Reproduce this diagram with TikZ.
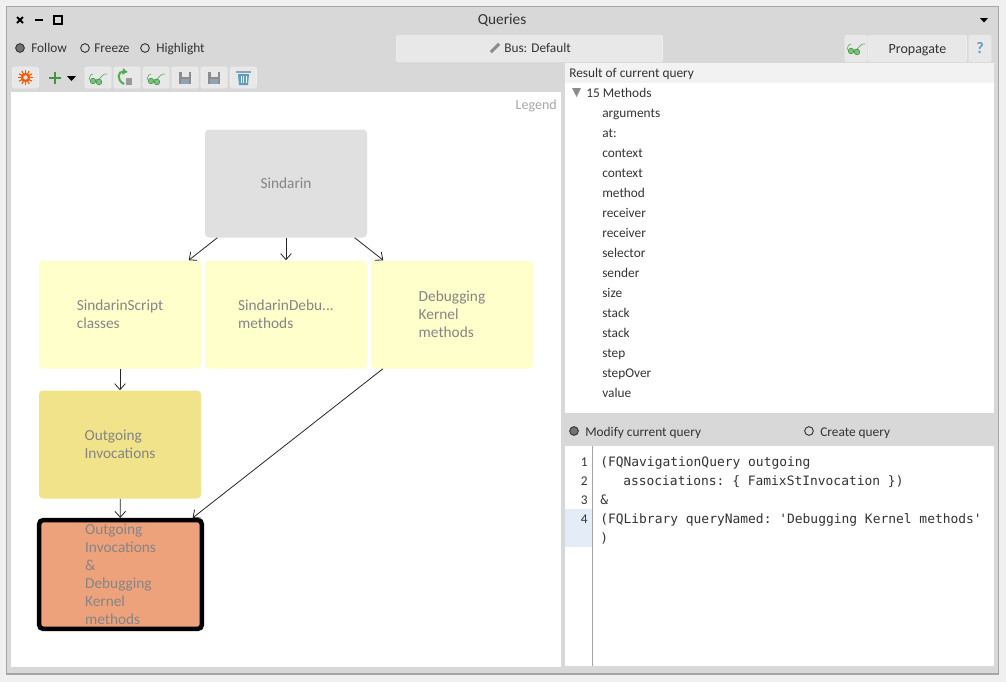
\documentclass[tikz,border=0pt]{standalone}
\usepackage{fontspec}
\setmainfont{Carlito}
\setmonofont{DejaVu Sans Mono}
\usetikzlibrary{arrows.meta}
\definecolor{winGray}{HTML}{D8D8D8}
\definecolor{winEdge}{HTML}{A6A6A6}
\definecolor{pageGray}{HTML}{F0F0F0}
\definecolor{btnGray}{HTML}{E8E8E8}
\definecolor{headGray}{HTML}{F2F2F2}
\definecolor{lineBlue}{HTML}{E3ECF7}
\definecolor{allGray}{HTML}{E0E0E0}
\definecolor{libYellow}{HTML}{FFFFCC}
\definecolor{navKhaki}{HTML}{F0E38A}
\definecolor{andSalmon}{HTML}{EDA27C}
\definecolor{iconGreen}{HTML}{4CAF50}
\definecolor{iconBlue}{HTML}{5B9BC4}
\definecolor{iconSlate}{HTML}{8FA3B5}
\definecolor{inkGray}{HTML}{333333}
\tikzset{
	txt/.style={font=\fontsize{10}{12}\selectfont, text=inkGray, inner sep=0pt, text height=8.5pt, text depth=1.5pt},
	code/.style={font=\ttfamily\fontsize{9.7}{12}\selectfont, text=inkGray, inner sep=0pt, anchor=west, text height=8.5pt, text depth=1.5pt},
	query/.style={draw=none, rounded corners=3pt, inner sep=0pt, minimum width=121.5pt, minimum height=81pt, align=left, text=black!48, font=\fontsize{11.5}{13.5}\selectfont},
	picked/.style={query, draw=black, line width=3.4pt, minimum width=122pt, minimum height=81.5pt},
	link/.style={-{Straight Barb[length=4.5pt, width=8pt]}, line width=0.6pt, black!85},
	radio/.style={circle, draw=black!80, line width=0.7pt, inner sep=0pt, minimum size=6.5pt},
	btn/.style={fill=btnGray, draw=black!7, rounded corners=1pt, inner sep=0pt, minimum height=15.75pt, minimum width=19.5pt},
	glasses/.pic={
		\draw[iconGreen, line width=0.45pt] (-9,2) .. controls (-8,-3) and (-7,-4) .. (-5,-4);
		\draw[iconGreen, line width=0.45pt] (-2,2) -- (0,1) (1,1) .. controls (3,0) and (5,-5) .. (9,-4);
		\filldraw[draw=iconGreen!80!black, fill=iconGreen!75, line width=0.4pt] (-5,3) circle (2.8) (1,4) circle (2.8);
	},
	floppy/.pic={
		\fill[black!45] (-6,-6) rectangle (6,6);
		\fill[btnGray] (-3.5,-6) rectangle (3.5,-1.5);
		\fill[iconSlate] (-4,1) rectangle (4,6);
	}
}

\begin{document}
\begin{tikzpicture}[x=0.75pt, y=-0.75pt]
	\useasboundingbox (0,0) rectangle (1006,682);
	\fill[pageGray] (0,0) rectangle (1006,682);
	\filldraw[draw=winEdge, fill=winGray, line width=0.8pt] (6.5,6.5) rectangle (998.5,674);

	\fill[white] (11,92) rectangle (561,667);
	\fill[white] (565,83) rectangle (994,413);
	\fill[headGray] (565,63) rectangle (994,83);
	\fill[white] (565,446) rectangle (994,666);
	\fill[lineBlue] (565,509) rectangle (592,547);
	\draw[black!35, line width=0.5pt] (592.5,446) -- (592.5,666);

	% title bar
	\draw[black, line width=1.4pt] (17,17) -- (23,23) (23,17) -- (17,23);
	\draw[black, line width=1.4pt] (35,20) -- (43,20);
	\draw[black, line width=1.4pt] (54,16) rectangle (62,24);
	\fill[black] (980,18) -- (988,18) -- (984,22.5) -- cycle;
	\node[txt, font=\fontsize{11.5}{12}\selectfont] (title) at (502,20) {Queries};

	% mode row
	\node[radio, fill=black!55] (follow) at (20,48) {};
	\node[txt, anchor=west] (followText) at (31,48) {Follow};
	\node[radio] (freeze) at (85,48) {};
	\node[txt, anchor=west] (freezeText) at (94,48) {Freeze};
	\node[radio] (highlight) at (145,48) {};
	\node[txt, anchor=west] (highlightText) at (156,48) {Highlight};

	\node[btn, minimum width=199.5pt, minimum height=20pt] (bus) at (529.5,48.5) {};
	\node[txt, anchor=west] (busText) at (504,48) {Bus: Default};
	\fill[black!45, rotate around={45:(495,48)}] (489,46.5) rectangle (501,49.5);
	\node[btn, minimum width=16.5pt, minimum height=20pt] (spy) at (856,48.5) {};
	\pic at (856,48) {glasses};
	\node[btn, txt, font=\fontsize{10.5}{12}\selectfont, minimum width=73.5pt, minimum height=20pt] (propagate) at (917.5,48.5) {Propagate};
	\node[btn, minimum width=16.5pt, minimum height=20pt, font=\bfseries\fontsize{12}{12}\selectfont, text=iconBlue] (help) at (980,48.5) {?};

	% toolbar
	\foreach \x/\name in {25.5/burst, 98/spyA, 127/redo, 156/spyB, 185/saveA, 214/saveB, 243.5/trash}
		\node[btn] (\name) at (\x,77.5) {};
	\foreach \a in {0,30,...,330}
		\draw[orange!70!red, line width=0.8pt] (25.5,77.5) -- ++(\a:7.5);
	\fill[orange!70!red] (25.5,77.5) circle (4.6);
	\fill[btnGray] (25.5,77.5) circle (2.2);
	\draw[iconGreen!85!black, line width=1.5pt] (49,77.5) -- (61,77.5) (55,71.5) -- (55,83.5);
	\fill[black] (67,76) -- (76,76) -- (71.5,81) -- cycle;
	\pic at (98,78) {glasses};
	\draw[iconGreen, line width=1.5pt, -{Latex[length=4pt,width=5.5pt]}] (124,84) .. controls (116,80) and (118,71) .. (128,72);
	\fill[black!40] (126,78) rectangle (132,84.5);
	\pic at (156,78) {glasses};
	\pic at (185,78) {floppy};
	\pic at (214,78) {floppy};
	\fill[iconBlue] (238,74) -- (249,74) -- (248,85) -- (239,85) -- cycle;
	\draw[white, line width=0.4pt] (241,76) -- (241,83) (243.5,76) -- (243.5,83) (246,76) -- (246,83);
	\fill[iconSlate] (236,70.5) rectangle (251,73);

	\node[txt, anchor=east, text=black!35, font=\fontsize{10.5}{12}\selectfont] (legend) at (557,105) {Legend};

	% query graph
	\node[query, fill=allGray] (sindarin) at (286,183.5) {Sindarin};
	\node[query, fill=libYellow] (script) at (120,314.5) {SindarinScript\\classes};
	\node[query, fill=libYellow] (debu) at (286,314.5) {SindarinDebu...\\methods};
	\node[query, fill=libYellow] (kernel) at (452,314.5) {Debugging\\Kernel\\methods};
	\node[query, fill=navKhaki] (outgoing) at (120,444.5) {Outgoing\\Invocations};
	\node[picked, fill=andSalmon] (both) at (120.5,574.5) {Outgoing\\Invocations\\\&\\Debugging\\Kernel\\methods};

	\draw[link] (sindarin) -- (script);
	\draw[link] (sindarin) -- (debu);
	\draw[link] (sindarin) -- (kernel);
	\draw[link] (script) -- (outgoing);
	\draw[link] (outgoing) -- (both);
	\draw[link] (kernel) -- (both);

	% result list
	\node[txt, anchor=west] (result) at (569,72.5) {Result of current query};
	\fill[black!45] (572,88) -- (581,88) -- (576.5,97) -- cycle;
	\node[txt, anchor=west] (methods) at (586,92.5) {15 Methods};
	\foreach \m [count=\i] in {arguments, at:, context, context, method, receiver, receiver, selector, sender, size, stack, stack, step, stepOver, value}
		\node[txt, anchor=west] (item\i) at (602,92.5+\i*20) {\m};

	% query editor
	\node[radio, fill=black!55] (modify) at (574,431) {};
	\node[txt, anchor=west] (modifyText) at (585,431.5) {Modify current query};
	\node[radio] (create) at (809,431) {};
	\node[txt, anchor=west] (createText) at (820,431.5) {Create query};

	\foreach \i in {1,2,3,4}
		\node[txt, anchor=east] (num\i) at (588,443+\i*19) {\i};
	\node[code] (codeA) at (600,462) {(FQNavigationQuery outgoing};
	\node[code] (codeB) at (623,481) {associations: \{ FamixStInvocation \})};
	\node[code] (codeC) at (600,500) {\&};
	\node[code] (codeD) at (600,519) {(FQLibrary queryNamed: 'Debugging Kernel methods'};
	\node[code] (codeE) at (600,538) {)};
\end{tikzpicture}
\end{document}
